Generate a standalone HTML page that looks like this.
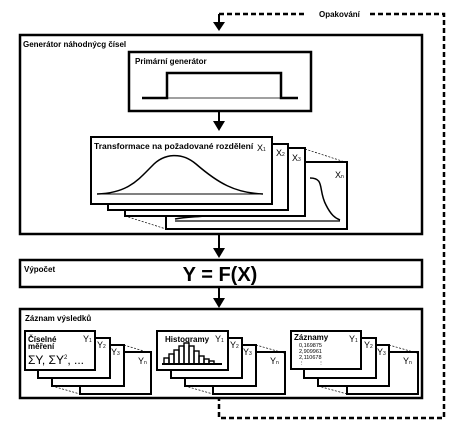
<!DOCTYPE html>
<html><head><meta charset="utf-8"><style>
html,body{margin:0;padding:0;background:#fff;}
svg{display:block;font-family:"Liberation Sans",sans-serif;}
.b{font-weight:bold;}
</style></head><body>
<svg width="460" height="426" viewBox="0 0 460 426" xmlns="http://www.w3.org/2000/svg">
<g fill="none" stroke="#000">
<path d="M219 14 H306 M370 14 H444 V418 H219 V398" stroke-width="2.5" stroke-dasharray="5,3"/>
<rect x="20" y="35" width="402" height="199" stroke-width="2.5"/>
<rect x="129" y="52" width="182" height="59" stroke-width="2.5"/>
<path d="M142 98 H167 V73 H281 V98 H298" stroke-width="2.5"/>
<path d="M167 98 H281" stroke-width="0.7"/>
<rect x="166" y="162" width="181" height="67" stroke-width="2" fill="#fff"/>
<path d="M175 221 H340" stroke-width="1.2"/>
<path d="M310 178 C325 178 318 190 326 205 C331 215 335 218 340 220" stroke-width="1.5"/>
<path d="M175 219 C185 217 195 217 205 216" stroke-width="1.5"/>
<rect x="125" y="148" width="180" height="68" stroke-width="2" fill="#fff"/>
<rect x="108" y="144" width="180" height="66" stroke-width="2" fill="#fff"/>
<rect x="91" y="137" width="181" height="67" stroke-width="2" fill="#fff"/>
<path d="M305 149 L345 162 M125 216 L166 229" stroke-width="0.7" stroke-dasharray="2,1.5"/>
<path d="M97 194 H263" stroke-width="1"/>
<path d="M97 194 C128 193 138 180 152 166 C164 153 182 152 196 164 C218 183 235 193 263 194" stroke-width="1.5"/>
<rect x="20" y="260" width="402" height="27" stroke-width="2.5"/>
<rect x="20" y="309" width="402" height="89" stroke-width="2.5"/>
<rect x="80" y="352" width="71" height="42" stroke-width="2" fill="#fff"/>
<rect x="52" y="345" width="72" height="41" stroke-width="2" fill="#fff"/>
<rect x="38" y="338" width="72" height="40" stroke-width="2" fill="#fff"/>
<rect x="25" y="331" width="70" height="39" stroke-width="2" fill="#fff"/>
<path d="M124 345 L150 353 M52 386 L80 394" stroke-width="0.7" stroke-dasharray="2,1.5"/>
<rect x="213" y="352" width="72" height="42" stroke-width="2" fill="#fff"/>
<rect x="185" y="345" width="71" height="41" stroke-width="2" fill="#fff"/>
<rect x="171" y="338" width="71" height="40" stroke-width="2" fill="#fff"/>
<rect x="157" y="331" width="71" height="39" stroke-width="2" fill="#fff"/>
<path d="M256 345 L284 353 M185 386 L213 394" stroke-width="0.7" stroke-dasharray="2,1.5"/>
<g stroke-width="1.4">
<path d="M162 364 H222" stroke-width="2"/>
<rect x="164" y="358" width="5" height="6"/><rect x="169" y="354" width="5" height="10"/>
<rect x="174" y="350" width="5" height="14"/><rect x="179" y="346" width="5" height="18"/>
<rect x="184" y="343" width="5" height="21"/><rect x="189" y="346" width="5" height="18"/>
<rect x="194" y="351" width="5" height="13"/><rect x="199" y="356" width="5" height="8"/>
<rect x="204" y="359" width="5" height="5"/><rect x="209" y="361" width="5" height="3"/>
</g>
<rect x="347" y="352" width="71" height="42" stroke-width="2" fill="#fff"/>
<rect x="318" y="345" width="71" height="41" stroke-width="2" fill="#fff"/>
<rect x="304" y="338" width="72" height="40" stroke-width="2" fill="#fff"/>
<rect x="291" y="331" width="70" height="38" stroke-width="2" fill="#fff"/>
<path d="M389 345 L417 353 M318 386 L347 394" stroke-width="0.7" stroke-dasharray="2,1.5"/>
<path d="M219 14 V24 M219 112 V123 M219 234 V250 M219 288 V300" stroke-width="2"/>
</g>
<g fill="#000">
<polygon points="213,22 225,22 219,31"/>
<polygon points="213,121 225,121 219,131"/>
<polygon points="213,248 225,248 219,258"/>
<polygon points="213,298 225,298 219,308"/>
</g>
<g font-size="8" class="b">
<text x="319" y="17">Opakování</text>
<text x="23" y="47">Generátor náhodnýcg čísel</text>
<text x="135" y="64">Primární generátor</text>
<text x="94" y="149" font-size="8.5">Transformace na požadované rozdělení</text>
<text x="24" y="272">Výpočet</text>
<text x="25" y="321">Záznam výsledků</text>
<text x="28" y="342">Číselné</text>
<text x="28" y="349">měření</text>
<text x="165" y="342">Histogramy</text>
<text x="294" y="340">Záznamy</text>
</g>
<text x="220" y="281" font-size="20" class="b" text-anchor="middle">Y = F(X)</text>
<g font-size="9">
<text x="257" y="151">X<tspan font-size="5">1</tspan></text>
<text x="276" y="156">X<tspan font-size="5">2</tspan></text>
<text x="292" y="161">X<tspan font-size="5">3</tspan></text>
<text x="335" y="178">X<tspan font-size="5">n</tspan></text>
<text x="83" y="342">Y<tspan font-size="5">1</tspan></text>
<text x="97" y="348">Y<tspan font-size="5">2</tspan></text>
<text x="111" y="355">Y<tspan font-size="5">3</tspan></text>
<text x="138" y="364">Y<tspan font-size="5">n</tspan></text>
<text x="215" y="342">Y<tspan font-size="5">1</tspan></text>
<text x="230" y="348">Y<tspan font-size="5">2</tspan></text>
<text x="243" y="355">Y<tspan font-size="5">3</tspan></text>
<text x="270" y="364">Y<tspan font-size="5">n</tspan></text>
<text x="349" y="342">Y<tspan font-size="5">1</tspan></text>
<text x="364" y="348">Y<tspan font-size="5">2</tspan></text>
<text x="377" y="355">Y<tspan font-size="5">3</tspan></text>
<text x="403" y="364">Y<tspan font-size="5">n</tspan></text>
</g>
<text x="28" y="364" font-size="12">ΣY, ΣY<tspan font-size="6" dy="-5">2</tspan><tspan dy="5">, ...</tspan></text>
<g font-size="5.5">
<text x="299" y="347">0,169875</text>
<text x="299" y="353">2,909961</text>
<text x="299" y="359">2,110678</text>
<text x="299" y="365">⋮ &#160; &#160; &#160; &#160; ⋮</text>
</g>
</svg>
</body></html>
